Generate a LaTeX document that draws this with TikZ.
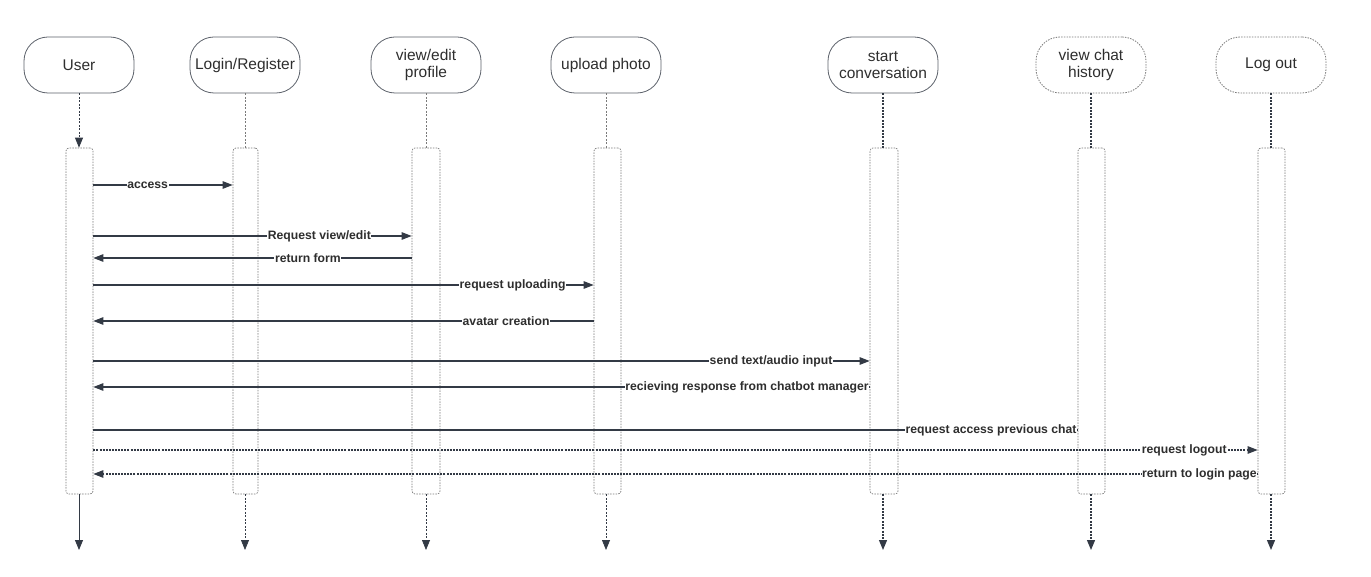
\documentclass[tikz,border=0pt]{standalone}
\usepackage{fontspec}
\setmainfont{Liberation Sans}
\usetikzlibrary{arrows.meta}
\definecolor{ink}{HTML}{333A45}
\definecolor{txt}{HTML}{2E2E2E}
\definecolor{dotg}{HTML}{7A7A7A}
\begin{document}
\begin{tikzpicture}[x=1pt,y=-1pt,
  head/.style={draw=ink!80,line width=0.8pt,rounded corners=24pt,minimum width=110pt,minimum height=56pt,align=center,font=\fontsize{15.5}{17.5}\selectfont,text=txt,inner sep=1pt},
  dhead/.style={head,draw=dotg,dash pattern=on 1.5pt off 1.2pt},
  actbox/.style={draw=dotg,line width=0.7pt,dash pattern=on 1.5pt off 1.2pt,rounded corners=3pt,minimum height=346pt,inner sep=0pt},
  thinlife/.style={draw=dotg,line width=0.75pt,dash pattern=on 2pt off 1.5pt},
  thicklife/.style={draw=ink,line width=1.2pt,dash pattern=on 2pt off 1.3pt},
  tip/.style={-{Triangle[length=10pt,width=8pt]},ink},
  msg/.style={draw=ink,line width=1.1pt,-{Triangle[length=10pt,width=7.5pt]}},
  dmsg/.style={msg,dash pattern=on 2pt off 1.1pt},
  lbl/.style={fill=white,inner sep=0.6pt,text=txt,font=\fontsize{12.2}{14}\selectfont\bfseries}
]
\useasboundingbox (0,0) rectangle (1371,577);
% heads
\node[head] (hU) at (79,65) {User};
\node[head] (hL) at (245,65) {Login/Register};
\node[head] (hV) at (426,65) {view/edit\\profile};
\node[head] (hP) at (606,65) {upload photo};
\node[head] (hS) at (883,65) {start\\conversation};
\node[dhead] (hH) at (1091,65) {view chat\\history};
\node[dhead] (hO) at (1271,65) {Log out};
% activation boxes
\node[actbox,minimum width=27pt] (bU) at (79.5,321) {};
\node[actbox,minimum width=25pt] (bL) at (245.5,321) {};
\node[actbox,minimum width=28pt] (bV) at (426,321) {};
\node[actbox,minimum width=27pt] (bP) at (607.5,321) {};
\node[actbox,minimum width=28pt] (bS) at (884,321) {};
\node[actbox,minimum width=27pt] (bH) at (1091.5,321) {};
\node[actbox,minimum width=27pt] (bO) at (1271.5,321) {};
% end coordinates
\coordinate (eU) at (79,550);
\coordinate (eL) at (245,550);
\coordinate (eV) at (426,550);
\coordinate (eP) at (606,550);
\coordinate (eS) at (883,550);
\coordinate (eH) at (1091,550);
\coordinate (eO) at (1271,550);
% lifelines top
\draw[thinlife,tip] (hU.south) -- (hU.south |- bU.north);
\draw[thinlife] (hL.south) -- (hL.south |- bL.north);
\draw[thinlife] (hV.south) -- (hV.south |- bV.north);
\draw[thinlife] (hP.south) -- (hP.south |- bP.north);
\draw[thicklife] (hS.south) -- (hS.south |- bS.north);
\draw[thicklife] (hH.south) -- (hH.south |- bH.north);
\draw[thicklife] (hO.south) -- (hO.south |- bO.north);
% lifelines bottom
\draw[draw=ink!70,line width=0.9pt,tip] (eU |- bU.south) -- (eU);
\draw[thinlife,tip] (eL |- bL.south) -- (eL);
\draw[thinlife,tip] (eV |- bV.south) -- (eV);
\draw[thinlife,tip] (eP |- bP.south) -- (eP);
\draw[thicklife,tip] (eS |- bS.south) -- (eS);
\draw[thicklife,tip] (eH |- bH.south) -- (eH);
\draw[thicklife,tip] (eO |- bO.south) -- (eO);
% messages
\draw[msg] (bU.east |- 0,185) -- node[lbl,pos=0.39]{access} (bL.west |- 0,185);
\draw[msg] (bU.east |- 0,236) -- node[lbl,pos=0.71]{Request view/edit} (bV.west |- 0,236);
\draw[msg] (bV.west |- 0,258) -- node[lbl,pos=0.326]{return form} (bU.east |- 0,258);
\draw[msg] (bU.east |- 0,285) -- node[lbl,pos=0.838]{request uploading} (bP.west |- 0,285);
\draw[msg] (bP.west |- 0,321) -- node[lbl,pos=0.175]{avatar creation} (bU.east |- 0,321);
\draw[msg] (bU.east |- 0,361) -- node[lbl,pos=0.873]{send text/audio input} (bS.west |- 0,361);
\draw[msg] (bS.west |- 0,387) -- node[lbl,pos=0.158]{recieving response from chatbot manager} (bU.east |- 0,387);
\draw[draw=ink,line width=1.1pt] (bU.east |- 0,430) -- node[lbl,pos=0.912]{request access previous chat} (bH.west |- 0,430);
\draw[dmsg] (bU.east |- 0,450) -- node[lbl,pos=0.937]{request logout} (bO.west |- 0,450);
\draw[dmsg] (bO.west |- 0,474) -- node[lbl,pos=0.05]{return to login page} (bU.east |- 0,474);
\end{tikzpicture}
\end{document}
